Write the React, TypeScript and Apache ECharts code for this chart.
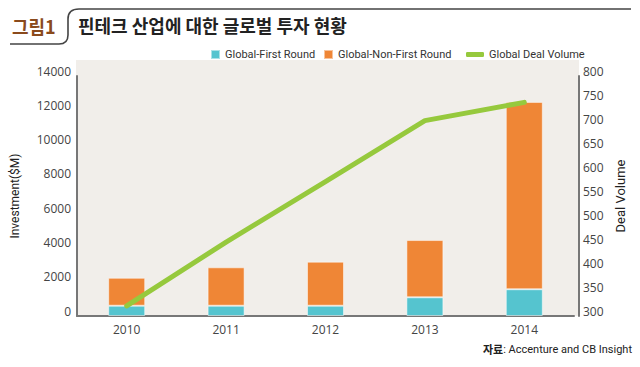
import React, { useEffect, useRef } from "react";
import * as echarts from "echarts";

const years = ["2010", "2011", "2012", "2013", "2014"];
const firstRound = [600, 600, 600, 1090, 1560];
const nonFirstRound = [1630, 2240, 2570, 3340, 10930];
const dealVolume = [321, 454, 580, 707, 745];

const titleTag = "그림1";
const titleText = "핀테크 산업에 대한 글로벌 투자 현황";
const sourceLabel = "자료";
const sourceText = ": Accenture and CB Insight";

const NARROW = "Roboto, 'Noto Sans CJK KR', sans-serif";
const TICK = "'Open Sans', sans-serif";

echarts.graphic.registerShape(
  "frameDeco",
  echarts.graphic.extendPath("M631 9 L79 9 Q68 9 68 19 L68 35 Q68 44 59 44 L10 44", {})
);

export default function App() {
  const ref = useRef<HTMLDivElement>(null);
  useEffect(() => {
    if (!ref.current) return;
    const chart = echarts.init(ref.current, null, { renderer: "svg" });
    const legendText = { fontFamily: NARROW, fontSize: 11, color: "#333" };
    const tickLabel = {
      color: "#444",
      fontSize: 12,
      fontFamily: TICK,
      verticalAlign: "bottom",
      lineHeight: 10,
      formatter: (v: number) => String(v),
    };
    chart.setOption({
      animation: false,
      backgroundColor: "#ffffff",
      graphic: [
        { type: "rect", z: -10, silent: true, shape: { x: 76, y: 60, width: 503, height: 256 }, style: { fill: "#f1eeea" } },
        { type: "frameDeco", x: 0, y: 0, style: { fill: "none", stroke: "#444", lineWidth: 1.6 } },
        { type: "text", x: 12, y: 26, style: { text: titleTag, font: "bold 18px 'Noto Sans CJK KR'", fill: "#8a4a1c", verticalAlign: "middle" } },
        { type: "text", x: 78, y: 25, style: { text: titleText, font: "bold 18px 'Noto Sans CJK KR'", fill: "#222", verticalAlign: "middle" } },
        {
          type: "text",
          x: 632,
          y: 349,
          style: {
            text: `{b|${sourceLabel}}{n|${sourceText}}`,
            align: "right",
            verticalAlign: "middle",
            rich: {
              b: { fontFamily: "'Noto Sans CJK KR'", fontWeight: "bold", fontSize: 11, fill: "#222" },
              n: { fontFamily: NARROW, fontSize: 11, fill: "#222" },
            },
          },
        },
      ],
      legend: [
        { left: 205, top: 44, itemWidth: 9, itemHeight: 9, icon: "rect", itemGap: 4, textStyle: legendText, data: ["Global-First Round"] },
        { left: 318, top: 44, itemWidth: 9, itemHeight: 9, icon: "rect", textStyle: legendText, data: ["Global-Non-First Round"] },
        { left: 461, top: 44, itemWidth: 18, itemHeight: 5, icon: "roundRect", textStyle: legendText, data: ["Global Deal Volume"] },
      ],
      grid: { left: 77, right: 66, top: 76, bottom: 51, containLabel: false },
      xAxis: {
        type: "category",
        data: years,
        axisLine: { lineStyle: { color: "#777", width: 2 } },
        axisTick: { show: false },
        axisLabel: { color: "#444", fontSize: 12, fontFamily: TICK, margin: 7 },
      },
      yAxis: [
        {
          type: "value",
          min: 0,
          max: 14000,
          interval: 2000,
          name: "Investment($M)",
          nameLocation: "middle",
          nameRotate: 90,
          nameGap: 56,
          nameTextStyle: { color: "#222", fontSize: 12, fontFamily: NARROW },
          axisLine: { show: true, lineStyle: { color: "#777", width: 2 } },
          axisTick: { show: false },
          splitLine: { show: false },
          axisLabel: { ...tickLabel, margin: 6 },
        },
        {
          type: "value",
          position: "right",
          offset: 5,
          min: 300,
          max: 800,
          interval: 50,
          name: "Deal Volume",
          nameLocation: "middle",
          nameRotate: 90,
          nameGap: 35,
          nameTextStyle: { color: "#222", fontSize: 13, fontFamily: NARROW },
          axisLine: { show: true, lineStyle: { color: "#777", width: 2 } },
          axisTick: { show: false },
          splitLine: { show: false },
          axisLabel: { ...tickLabel, margin: 4 },
        },
      ],
      series: [
        {
          name: "Global-First Round",
          type: "bar",
          stack: "inv",
          barWidth: 37,
          data: firstRound,
          itemStyle: { color: "#55c4cf", borderColor: "rgba(255,255,255,0.5)", borderWidth: 1 },
        },
        {
          name: "Global-Non-First Round",
          type: "bar",
          stack: "inv",
          barWidth: 37,
          data: nonFirstRound,
          itemStyle: { color: "#ef8636", borderColor: "rgba(255,255,255,0.5)", borderWidth: 1 },
        },
        {
          name: "Global Deal Volume",
          type: "line",
          yAxisIndex: 1,
          data: dealVolume,
          showSymbol: false,
          symbol: "none",
          z: 5,
          itemStyle: { color: "#96c93d" },
          lineStyle: { color: "#96c93d", width: 5, cap: "round", join: "round" },
        },
      ],
    });
    return () => chart.dispose();
  }, []);
  return <div ref={ref} style={{ position: "fixed", left: 0, top: 0, width: 640, height: 367 }} />;
}
